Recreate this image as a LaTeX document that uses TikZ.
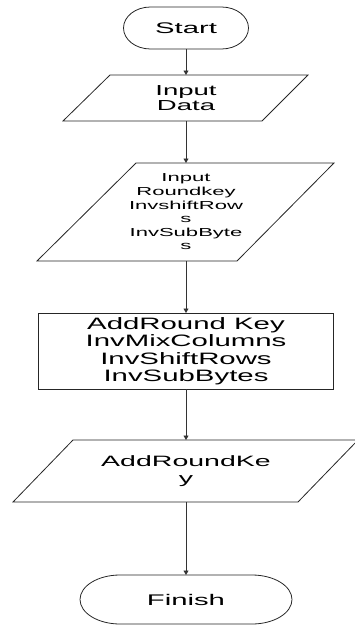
\documentclass[tikz,border=0pt]{standalone}
\usepackage{fontspec}
\setmainfont{Liberation Sans}
\newfontfamily\wideA{Liberation Sans}[FakeStretch=1.9]
\newfontfamily\wideB{Liberation Sans}[FakeStretch=1.78]
\usetikzlibrary{arrows.meta}
\begin{document}
\begin{tikzpicture}[x=1pt,y=1pt,
  every node/.style={inner sep=0pt, outer sep=0pt, align=center, text=black},
  outline/.style={draw=black!85, line width=0.8pt},
  flow/.style={draw=black!80, line width=0.9pt, -{Triangle[length=4.5pt,width=5pt]}}
]
\useasboundingbox (0,0) rectangle (355,-626);
% Start
\node[minimum width=125pt, minimum height=42pt, font=\wideA\fontsize{15.4}{17}\selectfont] (start) at (186,-28) {Start};
\draw[outline] ([xshift=27pt]start.north west) -- ([xshift=-27pt]start.north east)
  arc[start angle=90,end angle=-90,x radius=27pt,y radius=21pt]
  -- ([xshift=27pt]start.south west)
  arc[start angle=270,end angle=90,x radius=27pt,y radius=21pt] -- cycle;
% Input Data
\node[minimum width=100pt, minimum height=46pt, font=\wideA\fontsize{14.5}{15.5}\selectfont] (input) at (186,-98) {Input\\Data};
\draw[outline] (63,-121) -- (110,-75) -- (308,-75) -- (262,-121) -- cycle;
% Input roundkey
\node[minimum width=100pt, minimum height=98pt, font=\wideA\fontsize{11.6}{13.6}\selectfont] (params) at (186,-212) {Input\\Roundkey\\InvshiftRow\\s\\InvSubByte\\s};
\draw[outline] (37,-261) -- (136,-163) -- (334,-163) -- (237,-261) -- cycle;
% Rectangle
\node[draw=black!85, line width=0.8pt, minimum width=295pt, minimum height=76pt, font=\wideB\fontsize{16.5}{17.5}\selectfont] (rect) at (186,-351) {AddRound Key\\InvMixColumns\\InvShiftRows\\InvSubBytes};
% AddRoundKey
\node[minimum width=100pt, minimum height=62pt, font=\wideA\fontsize{15}{17}\selectfont] (ark) at (186,-471) {AddRoundKe\\y};
\draw[outline] (13,-502) -- (73,-440) -- (358,-440) -- (298,-502) -- cycle;
% Finish
\node[minimum width=212pt, minimum height=49pt, font=\wideA\fontsize{15.4}{17}\selectfont] (finish) at (186,-599.5) {Finish};
\draw[outline] ([xshift=40pt]finish.north west) -- ([xshift=-40pt]finish.north east)
  arc[start angle=90,end angle=-90,x radius=40pt,y radius=24.5pt]
  -- ([xshift=40pt]finish.south west)
  arc[start angle=270,end angle=90,x radius=40pt,y radius=24.5pt] -- cycle;
% Connectors
\draw[flow] (start.south) -- (input.north);
\draw[flow] (input.south) -- (params.north);
\draw[flow] (params.south) -- (rect.north);
\draw[flow] (rect.south) -- (ark.north);
\draw[flow] (ark.south) -- (finish.north);
\end{tikzpicture}
\end{document}
